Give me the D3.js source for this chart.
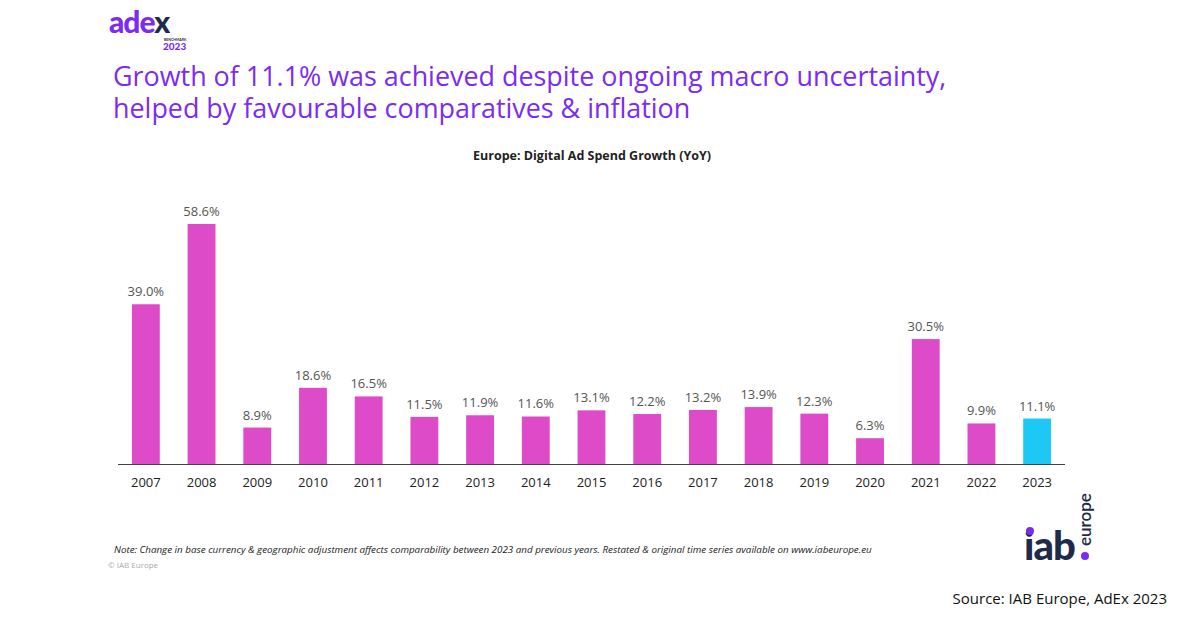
<!DOCTYPE html>
<html><head><meta charset="utf-8">
<script src="https://cdn.jsdelivr.net/npm/d3@7"></script>
<style>body{margin:0;background:#fff}svg{display:block}</style></head>
<body><svg id="c" width="1200" height="628"></svg>
<script>
const years=["2007","2008","2009","2010","2011","2012","2013","2014","2015","2016","2017","2018","2019","2020","2021","2022","2023"];
const growth=[39.0,58.6,8.9,18.6,16.5,11.5,11.9,11.6,13.1,12.2,13.2,13.9,12.3,6.3,30.5,9.9,11.1];
const labels=growth.map(v=>v.toFixed(1)+"%");
const svg=d3.select("#c");
// logo
const lg=svg.append("text").attr("x",109).attr("y",33).attr("font-family","Lato, sans-serif").attr("font-weight",900).attr("font-size",30).attr("letter-spacing",-1);
lg.append("tspan").attr("fill","#7b2cf0").text("ade");
lg.append("tspan").attr("fill","#1e2a4a").text("x");
svg.append("text").attr("x",164).attr("y",41).attr("font-family","Lato, sans-serif").attr("font-weight",700).attr("font-size",3.5).attr("fill","#1e2a4a").text("BENCHMARK");
svg.append("text").attr("x",163).attr("y",49.5).attr("font-family","Lato, sans-serif").attr("font-weight",900).attr("font-size",10).attr("fill","#7b2cf0").text("2023");
// title
const t=svg.append("text").attr("font-family","'Open Sans', sans-serif").attr("font-size",26.9).attr("fill","#7b2cf0");
t.append("tspan").attr("x",113).attr("y",86).text("Growth of 11.1% was achieved despite ongoing macro uncertainty,");
t.append("tspan").attr("x",113).attr("y",118).text("helped by favourable comparatives & inflation");
svg.append("text").attr("x",592).attr("y",160).attr("text-anchor","middle").attr("font-family","'Open Sans', sans-serif").attr("font-weight",700).attr("font-size",12.5).attr("fill","#222").text("Europe: Digital Ad Spend Growth (YoY)");
const x=d3.scaleBand().domain(years).range([118,1065]).paddingInner(0.5).paddingOuter(0.25);
const y=d3.scaleLinear().domain([0,58.6]).range([464,224]);
svg.selectAll("rect.b").data(years).enter().append("rect")
 .attr("x",d=>x(d)).attr("width",x.bandwidth()).attr("y",(d,i)=>y(growth[i])).attr("height",(d,i)=>464-y(growth[i]))
 .attr("fill",d=>d==="2023"?"#1ec8f5":"#de4bc8");
svg.selectAll("text.v").data(years).enter().append("text")
 .attr("x",d=>x(d)+x.bandwidth()/2).attr("y",(d,i)=>y(growth[i])-8).attr("text-anchor","middle")
 .attr("font-family","'Open Sans', sans-serif").attr("font-size",13).attr("fill","#555").text((d,i)=>labels[i]);
const ax=svg.append("g").attr("transform","translate(0,464)").call(d3.axisBottom(x).tickSize(0).tickPadding(14));
ax.select(".domain").attr("stroke","#444").attr("d","M118,0.5H1065");
ax.selectAll("text").attr("font-family","'Open Sans', sans-serif").attr("font-size",13).attr("fill","#222");
svg.append("text").attr("x",114).attr("y",553).attr("font-family","'Open Sans', sans-serif").attr("font-style","italic").attr("font-size",9.8).attr("fill","#222").text("Note: Change in base currency & geographic adjustment affects comparability between 2023 and previous years. Restated & original time series available on www.iabeurope.eu");
svg.append("text").attr("x",108).attr("y",568).attr("font-family","'Open Sans', sans-serif").attr("font-size",8).attr("fill","#aaa").text("© IAB Europe");
// iab logo
svg.append("text").attr("x",1024).attr("y",560).attr("font-family","Lato, sans-serif").attr("font-weight",900).attr("font-size",40).attr("letter-spacing",-1).attr("fill","#1e2a4a").text("iab");
svg.append("circle").attr("cx",1030).attr("cy",531).attr("r",4).attr("fill","#7b2cf0");
svg.append("circle").attr("cx",1085).attr("cy",556).attr("r",4).attr("fill","#7b2cf0");
svg.append("text").attr("transform","translate(1091,546) rotate(-90)").attr("font-family","Lato, sans-serif").attr("font-weight",600).attr("font-size",17).attr("fill","#1e2a4a").text("europe");
svg.append("text").attr("x",1167).attr("y",604).attr("text-anchor","end").attr("font-family","'Open Sans', sans-serif").attr("font-size",15).attr("fill","#111").text("Source: IAB Europe, AdEx 2023");
</script></body></html>
